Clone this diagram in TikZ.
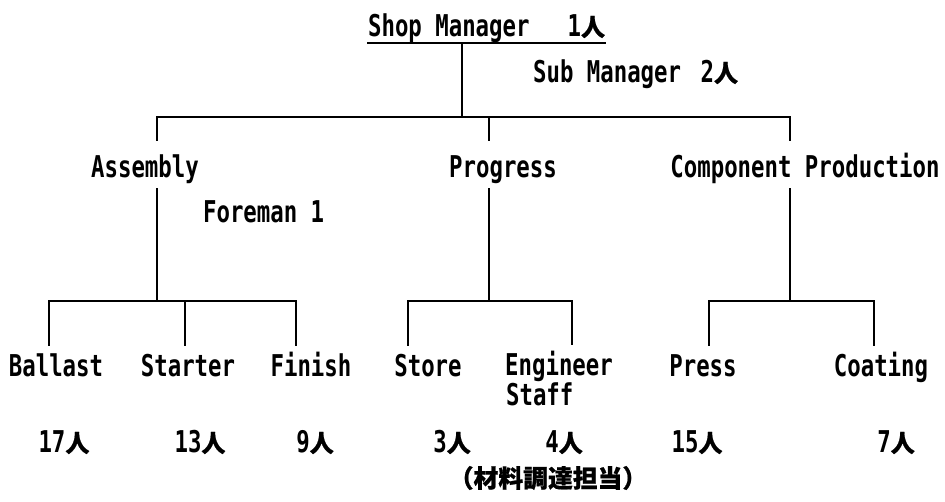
\documentclass[tikz,border=0pt]{standalone}
\usepackage{fontspec}
\newfontfamily\monofont[FakeStretch=0.745]{DejaVu Sans Mono}
\newfontfamily\cjk[Scale=0.8,FakeBold=0.7]{Noto Sans CJK JP}
\newcommand{\nin}{{\cjk 人}}
\begin{document}
\begin{tikzpicture}[x=1pt,y=-1pt,line width=2.2pt,
  txt/.style={font=\monofont\bfseries\fontsize{30}{32}\selectfont, inner sep=0pt},
  upper/.style={txt, anchor=base, text height=35pt, text depth=10pt},
  lower/.style={txt, anchor=base, text height=29pt, text depth=6pt},
  plain/.style={txt, anchor=base west},
  cnt/.style={txt, anchor=base},
  jp/.style={inner sep=0pt, font=\cjk\bfseries\fontsize{31}{33}\selectfont}]
\useasboundingbox (0,0) rectangle (945,501);
\fill[white] (0,0) rectangle (945,501);

% top
\node[plain] (sm) at (367,36) {Shop Manager\hspace{38pt}1\nin};
\node[plain] (sub) at (532,82) {Sub Manager\hspace{6pt} 2\nin};

% departments
\node[upper] (asm) at (145,177) {Assembly};
\node[upper] (prog) at (503,177) {Progress};
\node[upper] (comp) at (805,177) {Component Production};
\node[plain] (fore) at (202,222) {Foreman 1};

% sections
\node[lower] (ballast) at (56,376) {Ballast};
\node[lower] (starter) at (188,376) {Starter};
\node[lower] (finish) at (311,376) {Finish};
\node[lower] (store) at (428,376) {Store};
\node[lower] (eng) at (559,375) {Engineer};
\node[plain] (staff) at (505,405) {Staff};
\node[lower] (press) at (703,376) {Press};
\node[lower] (coat) at (881,376) {Coating};

% counts
\node[cnt] (n1) at (64,452) {17\nin};
\node[cnt] (n2) at (200,452) {13\nin};
\node[cnt] (n3) at (315,452) {9\nin};
\node[cnt] (n4) at (452,452) {3\nin};
\node[cnt] (n5) at (564,452) {4\nin};
\node[cnt] (n6) at (697,452) {15\nin};
\node[cnt] (n7) at (896,452) {7\nin};
\node[jp] (note) at (548,478) {（材料調達担当）};

% connectors
\coordinate (ul) at ([yshift=-7pt]sm.base west);
\draw (ul) -- ([yshift=-7pt]sm.base east);
\coordinate (tbM) at (462,117);
\coordinate (tbL) at (157,117);
\coordinate (tbR) at (790,117);
\coordinate (tbP) at (489,117);
\draw (tbM |- ul) -- (tbM);
\draw (tbL |- asm.north) -- (tbL) -- (tbR) -- (tbR |- comp.north);
\draw (tbP) -- (tbP |- prog.north);

\coordinate (aJ) at (157,301);
\coordinate (aL) at (49,301);
\coordinate (aM) at (185,301);
\coordinate (aR) at (296,301);
\draw (asm.south -| aJ) -- (aJ);
\draw (aL |- ballast.north) -- (aL) -- (aR) -- (aR |- finish.north);
\draw (aM) -- (aM |- starter.north);

\coordinate (pJ) at (489,301);
\coordinate (pL) at (408,301);
\coordinate (pR) at (572,301);
\draw (prog.south -| pJ) -- (pJ);
\draw (pL |- store.north) -- (pL) -- (pR) -- (pR |- eng.north);

\coordinate (cJ) at (790,301);
\coordinate (cL) at (709,301);
\coordinate (cR) at (874,301);
\draw (comp.south -| cJ) -- (cJ);
\draw (cL |- press.north) -- (cL) -- (cR) -- (cR |- coat.north);
\end{tikzpicture}
\end{document}
